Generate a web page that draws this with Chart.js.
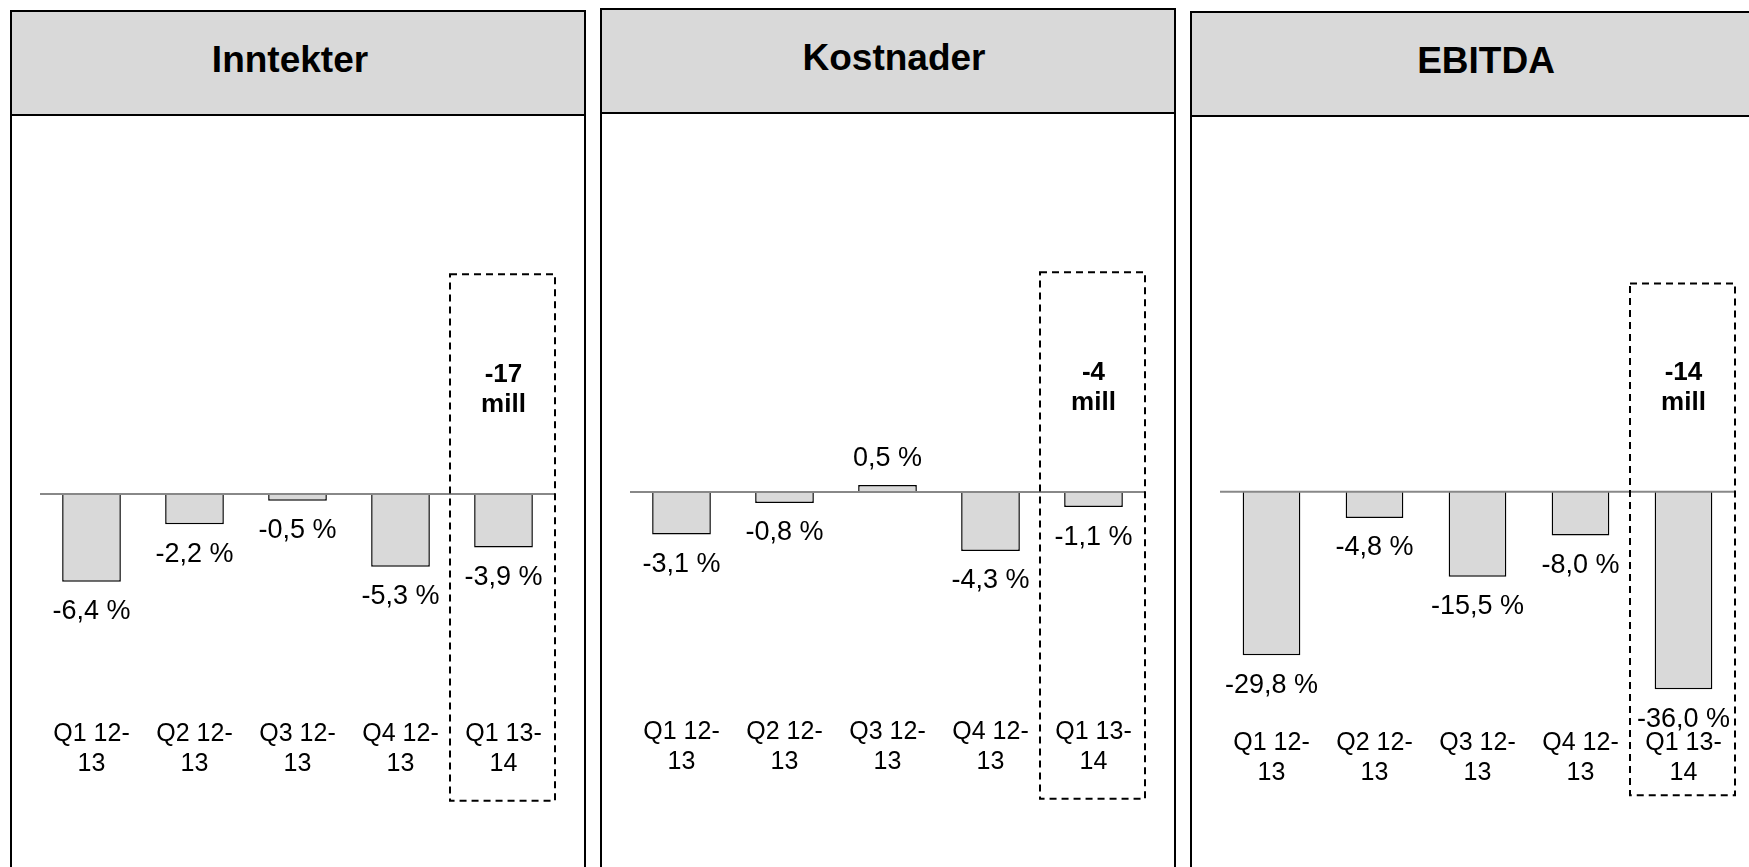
<!DOCTYPE html>
<html>
<head>
<meta charset="utf-8">
<script src="https://cdn.jsdelivr.net/npm/chart.js@4.4.0/dist/chart.umd.min.js"></script>
<style>
  body { margin:0; background:#fff; width:1749px; height:867px; overflow:hidden; position:relative;
         font-family:"Liberation Sans", Arial, sans-serif; }
  .panel { position:absolute; width:572px; height:900px; border:2px solid #000; background:#fff; }
  .head { height:104px; background:#d9d9d9; border-bottom:2px solid #000; display:flex;
          align-items:center; justify-content:center; font-weight:bold; font-size:37px; color:#000;
          box-sizing:border-box; padding-bottom:7px; }
  .wrap { position:relative; width:572px; height:752px; }
</style>
</head>
<body>

<div class="panel" style="left:10px;top:10px"><div class="head" id="t0" style="padding-right:16px"></div><div class="wrap"><canvas id="c0"></canvas></div></div>
<div class="panel" style="left:600px;top:8px"><div class="head" id="t1" style="padding-left:12px"></div><div class="wrap"><canvas id="c1"></canvas></div></div>
<div class="panel" style="left:1190px;top:11px"><div class="head" id="t2" style="padding-left:16px"></div><div class="wrap"><canvas id="c2"></canvas></div></div>

<script>
// data
const quarters = [["Q1 12-", "13"], ["Q2 12-", "13"], ["Q3 12-", "13"], ["Q4 12-", "13"], ["Q1 13-", "14"]];
const inntekter = [-6.4, -2.2, -0.5, -5.3, -3.9];
const kostnader = [-3.1, -0.8, 0.5, -4.3, -1.1];
const ebitda = [-29.8, -4.8, -15.5, -8.0, -36.0];
const titles = ["Inntekter", "Kostnader", "EBITDA"];
const millValues = ["-17", "-4", "-14"];

const FONT = '"Liberation Sans", Arial, sans-serif';

function fmt(v) {
  return v.toFixed(1).replace(".", ",") + " %";
}

// zero line, value labels, dashed box round the last quarter
const marks = {
  id: "marks",
  afterDatasetsDraw(chart, args, opts) {
    const ctx = chart.ctx;
    const area = chart.chartArea;
    const x = chart.scales.x, y = chart.scales.y;
    const y0 = y.getPixelForValue(0);
    ctx.save();

    ctx.strokeStyle = "#888";
    ctx.lineWidth = 2;
    ctx.beginPath();
    ctx.moveTo(area.left, y0);
    ctx.lineTo(area.right, y0);
    ctx.stroke();

    ctx.fillStyle = "#000";
    ctx.textAlign = "center";
    ctx.textBaseline = "middle";
    ctx.font = "27px " + FONT;
    const meta = chart.getDatasetMeta(0);
    chart.data.datasets[0].data.forEach((v, i) => {
      const bar = meta.data[i];
      ctx.fillText(fmt(v), bar.x, v < 0 ? bar.y + 30 : bar.y - 27);
    });

    const n = chart.data.labels.length;
    const half = (area.right - area.left) / n / 2;
    const cx = x.getPixelForValue(n - 1);
    const top = y.getPixelForValue(opts.boxTop);
    const bot = y.getPixelForValue(opts.boxBottom);
    ctx.setLineDash([7, 5]);
    ctx.strokeStyle = "#000";
    ctx.lineWidth = 2;
    ctx.strokeRect(cx - half - 2, top, half * 2 + 2, bot - top);

    ctx.setLineDash([]);
    ctx.font = "bold 26px " + FONT;
    ctx.fillText(opts.mill, cx, y0 - 119);
    ctx.fillText("mill", cx, y0 - 89);
    ctx.restore();
  }
};

function drawPanel(i, values, yMin, yMax, padTop, padBottom, boxTop, boxBottom, barPct) {
  document.getElementById("t" + i).textContent = titles[i];
  new Chart(document.getElementById("c" + i), {
    type: "bar",
    data: {
      labels: quarters,
      datasets: [{
        data: values,
        backgroundColor: "#d9d9d9",
        borderColor: "#000",
        borderWidth: 1.5,
        categoryPercentage: 1,
        barPercentage: barPct
      }]
    },
    options: {
      responsive: true,
      maintainAspectRatio: false,
      animation: false,
      layout: { padding: { left: 28, right: 29, top: padTop, bottom: padBottom } },
      plugins: {
        legend: { display: false },
        tooltip: { enabled: false },
        marks: { boxTop: boxTop, boxBottom: boxBottom, mill: millValues[i] }
      },
      scales: {
        x: {
          grid: { display: false, drawTicks: false },
          border: { display: false },
          ticks: { color: "#000", font: { family: FONT, size: 25 }, padding: 3, maxRotation: 0, autoSkip: false }
        },
        y: { display: false, min: yMin, max: yMax }
      }
    },
    plugins: [marks]
  });
}

drawPanel(0, inntekter, -16.17, 26, 21, 86, 16, -22.35, 0.57);
drawPanel(1, kostnader, -16.17, 26, 21, 86, 16, -22.35, 0.57);
drawPanel(2, ebitda, -42.5, 65.5, 15, 78, 37.9, -55.3, 0.56);
</script>
</body>
</html>
